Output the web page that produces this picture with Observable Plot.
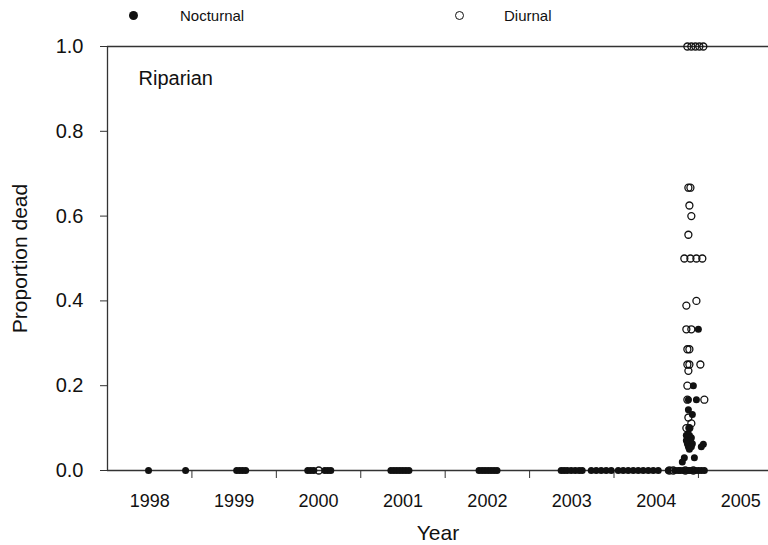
<!DOCTYPE html>
<html><head><meta charset="utf-8">
<script src="https://cdn.jsdelivr.net/npm/d3@7"></script>
<script src="https://cdn.jsdelivr.net/npm/@observablehq/plot@0.6"></script>
<style>
body{margin:0;background:#fff;}
#legend{position:relative;height:30px;width:768px;font-family:"Liberation Sans",Arial,sans-serif;font-size:15px;color:#111;}
.sym{position:absolute;top:11px;width:9px;height:9px;border-radius:50%;box-sizing:border-box;}
.lab{position:absolute;top:8px;line-height:16px;}
</style></head><body>
<div id="legend"></div>
<div id="chart"></div>
<script>
// ---- data ----
const seriesNames = ["Nocturnal", "Diurnal"];
const panelTitle = "Riparian";
const xTitle = "Year";
const yTitle = "Proportion dead";
const yearLabels = [1998, 1999, 2000, 2001, 2002, 2003, 2004, 2005];
const yearBoundaries = [1999, 2000, 2001, 2002, 2003, 2004, 2005];
const yTicks = [0, 0.2, 0.4, 0.6, 0.8, 1.0];
const xDomain = [1998, 2005.83];
const yDomain = [0, 1];

const nocturnalYear = [
  1998.486, 1998.925,
  1999.530, 1999.566, 1999.601, 1999.637,
  2000.372, 2000.408, 2000.444, 2000.574, 2000.610, 2000.645,
  2001.357, 2001.393, 2001.428, 2001.464, 2001.499, 2001.535, 2001.571,
  2002.401, 2002.437, 2002.472, 2002.508, 2002.543, 2002.579, 2002.614,
  2003.374, 2003.409, 2003.445, 2003.492, 2003.540, 2003.587, 2003.623,
  2003.730, 2003.789, 2003.848, 2003.907, 2003.967,
  2004.050, 2004.109, 2004.168, 2004.228, 2004.287, 2004.346, 2004.406, 2004.465, 2004.524,
  2004.643, 2004.726, 2004.762, 2004.786, 2004.821, 2004.869, 2004.893, 2004.916, 2004.964, 2004.999, 2005.034, 2005.070,
  2004.999, 2004.940, 2004.881, 2004.976, 2004.881, 2004.928, 2004.893,
  2004.857, 2004.893, 2004.869, 2004.916, 2004.857, 2004.905, 2004.869, 2004.928,
  2005.058, 2004.881, 2004.916, 2005.034, 2004.893, 2004.833, 2004.952, 2004.809
];
const nocturnalProp = [
  0, 0,
  0, 0, 0, 0,
  0, 0, 0, 0, 0, 0,
  0, 0, 0, 0, 0, 0, 0,
  0, 0, 0, 0, 0, 0, 0,
  0, 0, 0, 0, 0, 0, 0,
  0, 0, 0, 0, 0,
  0, 0, 0, 0, 0, 0, 0, 0, 0,
  0, 0, 0, 0, 0, 0, 0, 0, 0, 0, 0, 0,
  0.333, 0.2, 0.167, 0.167, 0.143, 0.132, 0.1,
  0.083, 0.083, 0.077, 0.077, 0.071, 0.071, 0.063, 0.063,
  0.062, 0.056, 0.056, 0.056, 0.05, 0.03, 0.03, 0.02
];
const diurnalYear = [
  2004.869, 2004.916, 2004.964, 2005.011, 2005.058,
  2004.881, 2004.905, 2004.893, 2004.916, 2004.881,
  2004.833, 2004.905, 2004.976, 2005.046,
  2004.976, 2004.857, 2004.857, 2004.916,
  2004.869, 2004.893, 2004.869, 2004.893, 2005.023,
  2004.881, 2004.869, 2004.869, 2005.070,
  2004.881, 2004.916, 2004.857, 2004.893,
  2000.503, 2004.655, 2004.702, 2004.845, 2004.940
];
const diurnalProp = [
  1, 1, 1, 1, 1,
  0.667, 0.667, 0.625, 0.6, 0.556,
  0.5, 0.5, 0.5, 0.5,
  0.4, 0.389, 0.333, 0.333,
  0.286, 0.286, 0.25, 0.25, 0.25,
  0.235, 0.2, 0.167, 0.167,
  0.125, 0.111, 0.1, 0.1,
  0, 0, 0, 0, 0
];

const nocturnal = nocturnalYear.map((y, i) => ({year: y, prop: nocturnalProp[i]}));
const diurnal = diurnalYear.map((y, i) => ({year: y, prop: diurnalProp[i]}));

// ---- legend ----
const legendPos = [{sym: 129, lab: 180, filled: true}, {sym: 455, lab: 504, filled: false}];
const legend = document.getElementById("legend");
seriesNames.forEach((name, i) => {
  const s = document.createElement("span");
  s.className = "sym";
  s.style.left = legendPos[i].sym + "px";
  if (legendPos[i].filled) s.style.background = "#111";
  else s.style.border = "1.3px solid #111";
  legend.appendChild(s);
  const t = document.createElement("span");
  t.className = "lab";
  t.style.left = legendPos[i].lab + "px";
  t.textContent = name;
  legend.appendChild(t);
});

// ---- chart ----
const font = "'Liberation Sans', Arial, sans-serif";
const chart = Plot.plot({
  width: 768,
  height: 515,
  marginTop: 16,
  marginRight: 0,
  marginBottom: 75,
  marginLeft: 107,
  x: {domain: xDomain},
  y: {domain: yDomain},
  style: {fontFamily: font, background: "white", color: "#111"},
  marks: [
    Plot.ruleY(yDomain, {stroke: "#333", strokeWidth: 1.3}),
    Plot.ruleX([xDomain[0]], {stroke: "#333", strokeWidth: 1.3}),
    Plot.axisY({ticks: yTicks, tickSize: 7, tickPadding: 17, tickFormat: d3.format(".1f"),
      fontSize: 20, stroke: "#333", label: null}),
    Plot.axisX({ticks: yearBoundaries, tickSize: 8, tickFormat: () => "", stroke: "#333", label: null}),
    Plot.axisX({ticks: yearLabels.map(y => y + 0.5), tickSize: 0, tickPadding: 24,
      tickFormat: d => String(Math.floor(d)), fontSize: 18, label: null}),
    Plot.text([yTitle], {frameAnchor: "left", rotate: -90, dx: -95, lineAnchor: "top",
      textAnchor: "middle", fontSize: 21, fill: "#111"}),
    Plot.text([xTitle], {frameAnchor: "bottom", dy: 69, lineAnchor: "bottom", fontSize: 21, fill: "#111"}),
    Plot.text([panelTitle], {frameAnchor: "top-left", dx: 31, dy: 24, lineAnchor: "top",
      textAnchor: "start", fontSize: 20, fill: "#111"}),
    Plot.dot(diurnal, {x: "year", y: "prop", r: 3.5, stroke: "#111", strokeWidth: 1.3, fill: "none"}),
    Plot.dot(nocturnal, {x: "year", y: "prop", r: 3.5, fill: "#111", stroke: "none"})
  ]
});
document.getElementById("chart").appendChild(chart);
</script>
</body></html>
